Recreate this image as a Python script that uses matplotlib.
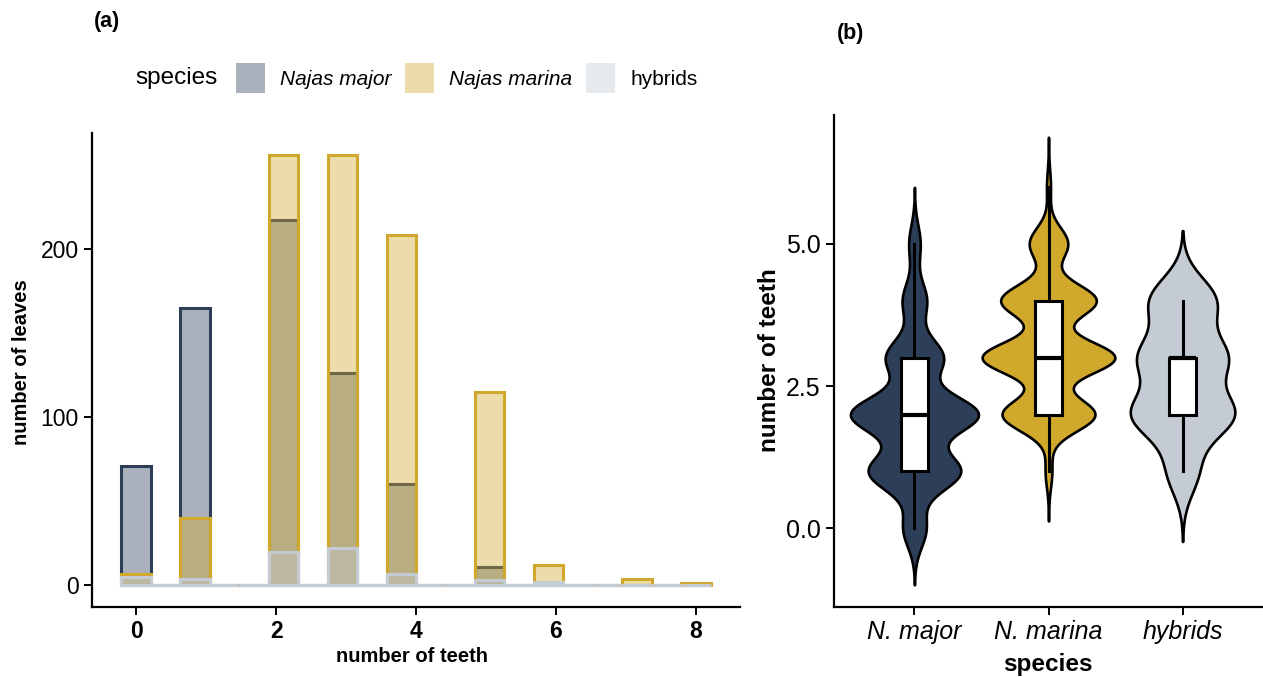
import numpy as np
import matplotlib.pyplot as plt
from matplotlib import mlab
from matplotlib.colors import to_rgba
from matplotlib.patches import Patch

plt.rcParams['font.family'] = ['Liberation Sans', 'DejaVu Sans']

# (a) number of leaves by number of teeth
teeth = [0, 1, 2, 3, 4, 5, 6, 7, 8]
leaves_major = [71, 165, 217, 126, 60, 11, 0, 0, 0]
leaves_marina = [7, 40, 256, 256, 208, 115, 12, 4, 1.5]
leaves_hybrids = [5, 4, 20, 22, 7, 3, 2, 0, 0]
hist_labels = ['Najas major', 'Najas marina', 'hybrids']

# (b) teeth per leaf, counts used for violins + boxplots
species = ['N. major', 'N. marina', 'hybrids']
v_teeth = [0, 1, 2, 3, 4, 5, 6]
v_major = [18, 72, 100, 45, 19, 9, 0]
v_marina = [0, 5, 70, 100, 72, 29, 3]
v_hybrids = [0, 30, 100, 85, 65, 0, 0]

colors = ['#2D3E58', '#D0A82B', '#C5CBD3']

fig = plt.figure(figsize=(12.63, 6.77), dpi=100)
W, H = 1263, 677


def px_axes(l, t, r, b):
    return fig.add_axes([l / W, 1 - b / H, (r - l) / W, (b - t) / H])


# ---------- panel (a) ----------
ax1 = px_axes(92, 133, 740, 607)
bw = 8 / 19
edges = -bw / 2 + bw * np.arange(21) + 1e-6
for counts, col in zip([leaves_major, leaves_marina, leaves_hybrids], colors):
    h, _ = np.histogram(teeth, bins=edges, weights=counts)
    ax1.bar(edges[:-1], h, width=np.diff(edges), align='edge',
            facecolor=to_rgba(col, 0.4), edgecolor=col, linewidth=2.2)

ax1.set_xlim(edges[0] - bw, edges[-1] + bw)
ax1.set_ylim(-12.8, 268.8)
ax1.set_xticks([0, 2, 4, 6, 8])
ax1.set_yticks([0, 100, 200])
for lab in ax1.get_xticklabels():
    lab.set_fontweight('bold')
ax1.tick_params(labelsize=16.5, width=1.4, length=6, color='black')
for s in ['top', 'right']:
    ax1.spines[s].set_visible(False)
for s in ['left', 'bottom']:
    ax1.spines[s].set_linewidth(1.6)

fig.text(22 / W, 1 - 362 / H, 'number of leaves', rotation=90, fontsize=14.5,
         fontweight='bold', ha='center', va='center')
fig.text(412 / W, 1 - 656 / H, 'number of teeth', fontsize=14.5,
         fontweight='bold', ha='center', va='center')

# legend
fig.text(135 / W, 1 - 78 / H, 'species', fontsize=17.5, ha='left', va='center')
handles = [Patch(facecolor=to_rgba(c, 0.4), edgecolor='none') for c in colors]
leg = fig.legend(handles, hist_labels, loc='center left', ncol=3,
                 bbox_to_anchor=(236 / W, 1 - 78 / H), frameon=False,
                 fontsize=15, borderaxespad=0, borderpad=0,
                 handlelength=1.4, handleheight=1.85, handletextpad=0.72,
                 columnspacing=0.65)
for t in leg.get_texts()[:2]:
    t.set_fontstyle('italic')

# ---------- panel (b) ----------
ax2 = px_axes(834, 115, 1263, 607)
bws = [0.33, 0.29, 0.41]
vwidths = [0.955, 0.99, 0.78]
raw = [np.repeat(v_teeth, c).astype(float) for c in [v_major, v_marina, v_hybrids]]
stats = []
for d, b in zip(raw, bws):
    kde = mlab.GaussianKDE(d, bw_method=b / d.std(ddof=1))
    coords = np.linspace(d.min() - 3 * b, d.max() + 3 * b, 400)
    stats.append(dict(coords=coords, vals=kde.evaluate(coords), mean=d.mean(),
                      median=np.median(d), min=d.min(), max=d.max()))
parts = ax2.violin(stats, positions=[1, 2, 3], widths=vwidths,
                   showmeans=False, showextrema=False, showmedians=False)
for body, col in zip(parts['bodies'], colors):
    body.set_facecolor(col)
    body.set_edgecolor('black')
    body.set_linewidth(1.9)
    body.set_alpha(1)

ax2.boxplot(raw, positions=[1, 2, 3], widths=0.2, patch_artist=True,
            showfliers=False, showcaps=False,
            boxprops=dict(facecolor='white', edgecolor='black', linewidth=2.2),
            medianprops=dict(color='black', linewidth=3),
            whiskerprops=dict(color='black', linewidth=2.2))

ax2.set_xlim(0.4, 3.6)
ax2.set_ylim(-1.38, 7.26)
ax2.set_xticks([1, 2, 3])
ax2.set_xticklabels(species, fontstyle='italic')
ax2.set_yticks([0, 2.5, 5])
ax2.set_yticklabels(['0.0', '2.5', '5.0'])
ax2.tick_params(labelsize=18, width=1.4, length=6, color='black')
for s in ['top', 'right']:
    ax2.spines[s].set_visible(False)
for s in ['left', 'bottom']:
    ax2.spines[s].set_linewidth(1.6)

fig.text(770 / W, 1 - 360 / H, 'number of teeth', rotation=90, fontsize=17.5,
         fontweight='bold', ha='center', va='center')
fig.text(1048 / W, 1 - 664 / H, 'species', fontsize=17.5,
         fontweight='bold', ha='center', va='center')

fig.text(107 / W, 1 - 22 / H, '(a)', fontsize=15.5, fontweight='bold',
         ha='center', va='center')
fig.text(851 / W, 1 - 33 / H, '(b)', fontsize=15.5, fontweight='bold',
         ha='center', va='center')

fig.savefig('out.png', dpi=100)
